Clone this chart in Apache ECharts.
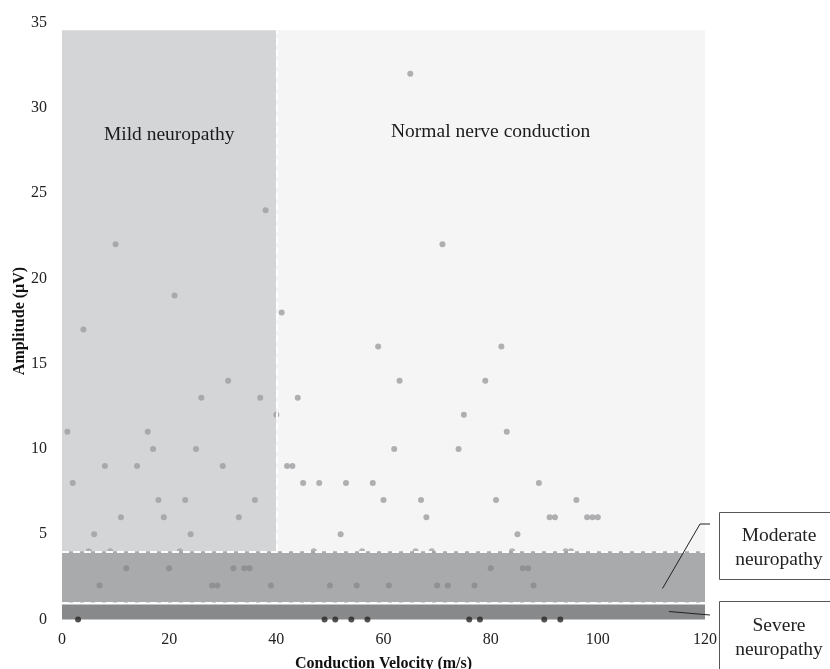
<!DOCTYPE html>
<html>
<head>
<meta charset="UTF-8">
<title>Nerve conduction</title>
<script src="https://cdn.jsdelivr.net/npm/echarts@6/dist/echarts.min.js"></script>
<style>
body, html { margin: 0; padding: 0; background: #fff; }
#chart { width: 830px; height: 669px; }
</style>
</head>
<body>
<div id="chart"></div>
<script>
// velocity (m/s), amplitude (uV)
var upperPoints = [
    [1, 11], [2, 8], [4, 17], [6, 5], [8, 9], [10, 22], [11, 6], [14, 9], [16, 11], [17, 10],
    [18, 7], [19, 6], [21, 19], [23, 7], [24, 5], [25, 10], [26, 13], [30, 9], [31, 14], [33, 6],
    [36, 7], [37, 13], [38, 24], [40, 12],
    [41, 18], [42, 9], [43, 9], [44, 13], [45, 8], [48, 8], [52, 5], [53, 8], [58, 8], [59, 16],
    [60, 7], [62, 10], [63, 14], [65, 32], [67, 7], [68, 6], [71, 22], [74, 10], [75, 12], [79, 14],
    [81, 7], [82, 16], [83, 11], [85, 5], [89, 8], [91, 6], [92, 6], [96, 7], [98, 6], [99, 6], [100, 6]
];
var borderPoints = [[5, 4], [9, 4], [22, 4], [47, 4], [56, 4], [66, 4], [69, 4], [84, 4], [94, 4], [95, 4]];
var moderatePoints = [
    [7, 2], [12, 3], [20, 3], [28, 2], [29, 2], [32, 3], [34, 3], [35, 3], [39, 2], [50, 2],
    [55, 2], [61, 2], [70, 2], [72, 2], [77, 2], [80, 3], [86, 3], [87, 3], [88, 2]
];
var severePoints = [[3, 0], [49, 0], [51, 0], [54, 0], [57, 0], [76, 0], [78, 0], [90, 0], [93, 0]];

var xTicks = [0, 20, 40, 60, 80, 100, 120];
var yTicks = [0, 5, 10, 15, 20, 25, 30, 35];

var serif = '"Liberation Serif", "DejaVu Serif", serif';
var myChart = echarts.init(document.getElementById('chart'));

var dash = { color: '#ffffff', width: 2, type: [7, 4], opacity: 0.95 };

var option = {
    animation: false,
    grid: { left: 62, right: 125, top: 22.5, bottom: 49.5, outerBoundsMode: 'none' },
    xAxis: {
        type: 'value', min: xTicks[0], max: xTicks[xTicks.length - 1], interval: 20,
        name: 'Conduction Velocity (m/s)', nameLocation: 'middle', nameGap: 36, nameMoveOverlap: false,
        nameTextStyle: { fontFamily: serif, fontWeight: 'bold', fontSize: 16, color: '#111' },
        axisLine: { show: false }, axisTick: { show: false }, splitLine: { show: false },
        axisLabel: { fontFamily: serif, fontSize: 16, color: '#222', margin: 12 }
    },
    yAxis: {
        type: 'value', min: yTicks[0], max: yTicks[yTicks.length - 1], interval: 5,
        name: 'Amplitude (\u00b5V)', nameLocation: 'middle', nameGap: 34, nameMoveOverlap: false,
        nameTextStyle: { fontFamily: serif, fontWeight: 'bold', fontSize: 16, color: '#111' },
        axisLine: { show: false }, axisTick: { show: false }, splitLine: { show: false },
        axisLabel: { fontFamily: serif, fontSize: 16, color: '#222', margin: 15 }
    },
    series: [
        {
            // shaded zones
            name: 'zones', type: 'scatter', data: [], silent: true,
            markArea: {
                silent: true,
                data: [
                    [{ coord: [0, 4], itemStyle: { color: '#d4d5d7' } }, { coord: [40, 34.55] }],
                    [{ coord: [40, 4], itemStyle: { color: '#f5f5f5' } }, { coord: [120, 34.55] }],
                    [{ coord: [0, 1], itemStyle: { color: '#a9aaac' } }, { coord: [120, 4] }],
                    [{ coord: [0, 0], itemStyle: { color: '#88898b' } }, { coord: [120, 0.88] }]
                ]
            },
            markLine: {
                silent: true, symbol: 'none', label: { show: false },
                lineStyle: dash,
                data: [
                    [{ coord: [0, 4] }, { coord: [120, 4] }],
                    [{ coord: [0, 1] }, { coord: [120, 1] }],
                    [{ coord: [40, 4] }, { coord: [40, 34.55] }]
                ]
            }
        },
        {
            name: 'upper', type: 'scatter', data: upperPoints, symbolSize: 6,
            itemStyle: { color: '#9d9ea0' }
        },
        {
            name: 'border', type: 'scatter', data: borderPoints, symbolSize: 6,
            itemStyle: { color: '#a3a4a6' }
        },
        {
            name: 'moderate', type: 'scatter', data: moderatePoints, symbolSize: 6,
            itemStyle: { color: '#8a8b8d' }
        },
        {
            name: 'severe', type: 'scatter', data: severePoints, symbolSize: 6,
            itemStyle: { color: '#252525' }
        },
        {
            name: 'labels', type: 'scatter', symbolSize: 0, silent: true, z: 10,
            data: [[20, 28.4, 'Mild neuropathy'], [80, 28.6, 'Normal nerve conduction']],
            label: {
                show: true, position: 'inside', formatter: function (p) { return p.value[2]; },
                fontFamily: serif, fontSize: 19.5, color: '#1a1a1a', opacity: 1, textBorderWidth: 0
            }
        }
    ],
    graphic: [
        { type: 'rect', z: 100, shape: { x: 719.5, y: 512.5, width: 120, height: 67 },
          style: { fill: '#fff', stroke: '#555', lineWidth: 1 } },
        { type: 'text', z: 101, style: { text: 'Moderate\nneuropathy', x: 779, y: 548, align: 'center', verticalAlign: 'middle',
          font: '19.5px "Liberation Serif"', lineHeight: 24, fill: '#222' } },
        { type: 'rect', z: 100, shape: { x: 719.5, y: 601.5, width: 120, height: 80 },
          style: { fill: '#fff', stroke: '#555', lineWidth: 1 } },
        { type: 'text', z: 101, style: { text: 'Severe\nneuropathy', x: 779, y: 637.5, align: 'center', verticalAlign: 'middle',
          font: '19.5px "Liberation Serif"', lineHeight: 24, fill: '#222' } },
        { type: 'polyline', z: 100, shape: { points: [[710, 524], [700, 524], [662.5, 588.5]] },
          style: { stroke: '#222', lineWidth: 1, fill: null } },
        { type: 'polyline', z: 100, shape: { points: [[710, 615], [669, 611.5]] },
          style: { stroke: '#222', lineWidth: 1, fill: null } }
    ]
};

myChart.setOption(option);
</script>
</body>
</html>
